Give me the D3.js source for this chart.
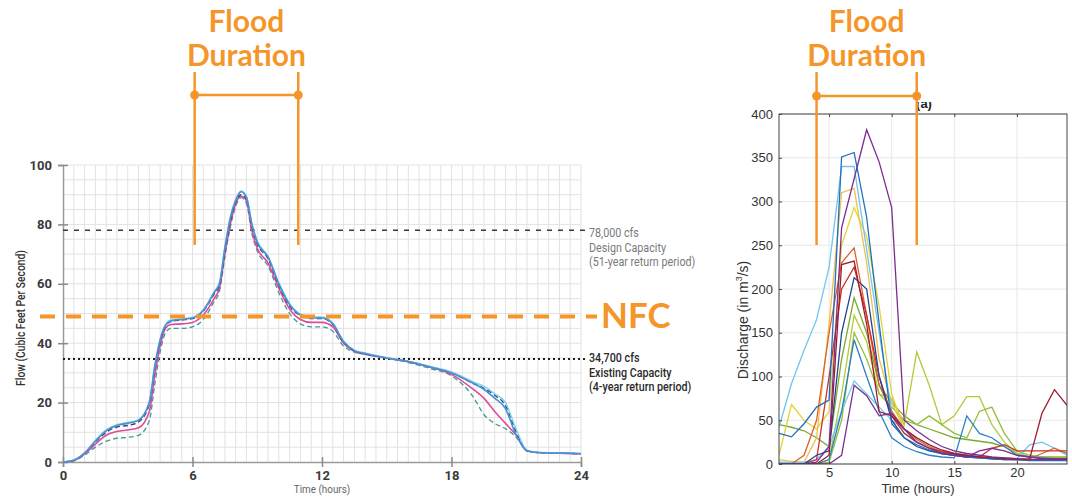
<!DOCTYPE html>
<html>
<head>
<meta charset="utf-8">
<script src="https://cdn.jsdelivr.net/npm/d3@7"></script>
<style>
    body { margin: 0; background: #fff; }
    svg { display: block; }
</style>
</head>
<body>
<svg id="chart" width="1072" height="497"></svg>
<script>
// ---------- left chart data (flow, thousand cfs) ----------
var hoursL = [0, 0.5, 1, 1.5, 2, 2.5, 3, 3.5, 4, 4.25, 4.5, 4.75, 5, 5.5, 6, 6.5, 7, 7.25, 7.5, 7.75, 8,
    8.25, 8.5, 8.75, 9, 9.5, 10, 10.5, 11, 11.5, 12, 12.5, 13, 13.5, 14, 15, 16, 17, 18, 19,
    19.5, 20, 20.5, 21, 21.5, 22, 23, 24];
var flowTeal = [0, 0.4, 2.3, 5, 7, 8, 8.3, 9, 14, 26, 37, 43.5, 45, 45, 45.5, 48, 54, 57.5, 69, 79, 86,
    89, 87, 77, 71, 66, 57, 50, 46.5, 45.5, 45.5, 44, 39, 37, 36.2, 35, 33.5, 31.5, 29, 22,
    16, 13, 11.2, 8.3, 3.8, 3.2, 3, 2.8];
var flowPink = [0, 0.5, 2.7, 6, 9, 10.3, 10.8, 11.5, 17, 29, 39, 45, 46.3, 46.5, 47, 49.5, 55, 58.5, 70, 80, 87,
    89.5, 88, 78, 72, 67, 58.5, 51.5, 48, 47, 47, 45.5, 40, 37.3, 36.3, 35, 33.8, 32, 29.5, 24.5,
    21.5, 17, 13, 9, 3.7, 3.2, 3, 2.8];
var flowNavy = [0, 0.6, 3, 6.8, 10, 11.8, 12.3, 13.5, 19.5, 31.5, 40.5, 45.8, 47.3, 47.8, 48.3, 50.8, 56.5, 59.5, 71, 81, 87.5,
    90, 88.5, 79.5, 73.5, 68.5, 59.5, 52.5, 49.3, 48.3, 48.3, 46.3, 40.3, 37.4, 36.4, 35, 33.8, 32, 30, 26.5,
    24.8, 22.5, 19, 10, 3.8, 3.2, 3, 2.8];
var flowCyan = [0, 0.7, 3.2, 7.3, 10.8, 12.6, 13.3, 14.3, 20.5, 32.5, 41.5, 46.3, 47.8, 48.2, 48.7, 51.3, 57.3, 60.5, 72.5, 82.5, 88.5,
    91.3, 89.5, 80.5, 74.5, 69.3, 60.3, 53.3, 49.8, 48.8, 48.8, 46.8, 40.8, 37.7, 36.7, 35.1, 33.9, 32.2, 30.3, 27,
    25.5, 23, 20, 11, 4, 3.3, 3.1, 2.9];
var flowBlue = [0, 0.6, 3, 7, 10.5, 12.3, 13, 14, 20, 32, 41, 46, 47.5, 48, 48.5, 51, 57, 60, 72, 82, 88,
    91, 89, 80, 74, 69, 60, 53, 49.5, 48.5, 48.5, 46.5, 40.5, 37.5, 36.5, 35, 33.8, 32, 30, 26.5,
    24.5, 21.5, 18, 9, 3.8, 3.2, 3, 2.8];

var ticksXL = [0, 6, 12, 18, 24];
var ticksYL = [0, 20, 40, 60, 80, 100];
var designCap = 78;      // 78,000 cfs
var existingCap = 34.7;  // 34,700 cfs
var nfcLevel = 49;
var floodL = [6.1, 10.9];

// ---------- right chart data (discharge, m3/s) ----------
var hoursR = [1, 2, 3, 4, 5, 6, 7, 8, 9, 10, 11, 12, 13, 14, 15, 16, 17, 18, 19, 20, 21, 22, 23, 24];
var qGreen    = [45, 42, 38, 30, 20, 120, 190, 150, 90, 70, 55, 45, 40, 35, 30, 28, 26, 24, 20, 12, 8, 8, 8, 8];
var qLime     = [0, 0, 0, 0, 5, 80, 170, 140, 80, 75, 45, 128, 90, 45, 55, 77, 77, 45, 25, 12, 8, 8, 8, 8];
var qGreen2   = [0, 0, 0, 0, 2, 50, 150, 120, 80, 65, 50, 45, 55, 45, 35, 30, 60, 65, 35, 15, 10, 8, 7, 7];
var qYellow   = [10, 68, 50, 40, 60, 250, 293, 260, 180, 80, 40, 30, 22, 15, 12, 10, 8, 7, 6, 6, 5, 5, 5, 5];
var qGold     = [5, 3, 2, 30, 160, 310, 315, 230, 120, 70, 40, 25, 18, 14, 11, 9, 8, 7, 6, 6, 5, 5, 5, 5];
var qOrange   = [0, 0, 10, 50, 150, 230, 247, 170, 90, 60, 40, 28, 20, 14, 11, 9, 8, 7, 7, 6, 6, 12, 18, 12];
var qRed      = [0, 0, 0, 5, 100, 200, 225, 170, 100, 55, 35, 25, 18, 14, 11, 9, 8, 18, 22, 15, 15, 15, 15, 15];
var qDarkRed  = [0, 0, 0, 0, 10, 228, 232, 160, 60, 55, 40, 30, 22, 16, 12, 10, 8, 7, 6, 5, 5, 58, 85, 67];
var qSky      = [42, 92, 130, 165, 225, 340, 340, 245, 150, 60, 35, 25, 18, 14, 11, 9, 8, 7, 6, 6, 22, 25, 18, 10];
var qSkyLow   = [2, 2, 2, 5, 20, 60, 95, 80, 65, 50, 40, 30, 22, 15, 12, 10, 8, 7, 6, 5, 5, 5, 5, 5];
var qBlue     = [35, 31, 46, 65, 73, 351, 356, 282, 160, 46, 30, 22, 16, 12, 10, 8, 7, 6, 5, 5, 4, 4, 4, 4];
var qBlueMid  = [0, 0, 0, 0, 5, 60, 142, 100, 60, 30, 20, 14, 10, 8, 7, 55, 35, 30, 20, 10, 8, 7, 6, 6];
var qNavy     = [0, 0, 0, 10, 15, 150, 213, 200, 100, 50, 30, 20, 15, 12, 10, 8, 7, 6, 5, 5, 5, 5, 5, 5];
var qPurple   = [0, 0, 0, 2, 20, 270, 326, 382, 345, 293, 50, 38, 28, 20, 15, 12, 10, 8, 7, 6, 5, 5, 5, 5];
var qPurpleLo = [0, 0, 0, 0, 0, 10, 90, 78, 55, 58, 40, 25, 18, 12, 10, 8, 15, 18, 15, 10, 8, 6, 6, 6];

var ticksXR = [5, 10, 15, 20];
var ticksYR = [0, 50, 100, 150, 200, 250, 300, 350, 400];
var floodR = [4, 12];

var orange = '#f5962a';

d3.select(window).on('load', init);

function init() {
    var svg = d3.select('#chart');
    svg.append('rect').attr('width', 1072).attr('height', 497).attr('fill', '#fff');

    drawLeft(svg);
    drawRight(svg);
}

// narrow text: the original uses a condensed face, so squeeze Roboto
function narrowText(g, x, y, txt, size, weight, fill, anchor, rotate) {
    return g.append('text')
        .attr('transform', 'translate(' + x + ',' + y + ')' +
            (rotate ? ' rotate(' + rotate + ')' : '') + ' scale(0.86,1)')
        .attr('text-anchor', anchor || 'start')
        .attr('font-family', 'Roboto, sans-serif')
        .attr('font-size', size)
        .attr('font-weight', weight)
        .attr('fill', fill)
        .text(txt);
}

// -----------------------------------
function drawLeft(svg) {
    var x = d3.scaleLinear().domain([0, 24]).range([63, 581]);
    var y = d3.scaleLinear().domain([0, 100]).range([462, 165]);

    var g = svg.append('g');

    // fine grid: every half hour and every 5 units
    g.append('g').selectAll('line')
        .data(d3.range(0.5, 24.01, 0.5))
        .enter().append('line')
        .attr('x1', function(d){ return x(d); })
        .attr('x2', function(d){ return x(d); })
        .attr('y1', y(0)).attr('y2', y(100))
        .attr('stroke', '#e2e2e2').attr('stroke-width', 1);
    g.append('g').selectAll('line')
        .data(d3.range(5, 100.1, 5))
        .enter().append('line')
        .attr('x1', x(0)).attr('x2', x(24))
        .attr('y1', function(d){ return y(d); })
        .attr('y2', function(d){ return y(d); })
        .attr('stroke', '#e2e2e2').attr('stroke-width', 1);

    // axes
    var yAxis = g.append('g')
        .attr('transform', 'translate(' + x(0) + ',0)')
        .call(d3.axisLeft(y).tickValues(ticksYL).tickSize(5).tickPadding(6));
    yAxis.selectAll('.tick line').attr('x2', 5).attr('x1', -5);
    var xAxis = g.append('g')
        .attr('transform', 'translate(0,' + y(0) + ')')
        .call(d3.axisBottom(x).tickValues(ticksXL).tickSize(5).tickPadding(4));
    xAxis.selectAll('.tick line').attr('y1', -5);

    [yAxis, xAxis].forEach(function(a) {
        a.select('.domain').attr('stroke', '#9a9a9a').attr('stroke-width', 1.5);
        a.selectAll('.tick line').attr('stroke', '#8a8a8a').attr('stroke-width', 1.5);
        a.selectAll('.tick text')
            .attr('font-family', 'Roboto, sans-serif')
            .attr('font-size', 13)
            .attr('font-weight', 'bold')
            .attr('fill', '#3a3a3a');
    });

    // capacity lines
    g.append('line')
        .attr('x1', x(0)).attr('x2', 586)
        .attr('y1', y(designCap)).attr('y2', y(designCap))
        .attr('stroke', '#3a3a3a').attr('stroke-width', 1.5)
        .attr('stroke-dasharray', '5,6');
    g.append('line')
        .attr('x1', x(0)).attr('x2', 586)
        .attr('y1', y(existingCap)).attr('y2', y(existingCap))
        .attr('stroke', '#1e1e1e').attr('stroke-width', 2)
        .attr('stroke-dasharray', '2,3');

    // flow curves
    var line = d3.line()
        .x(function(d){ return x(d[0]); })
        .y(function(d){ return y(d[1]); })
        .curve(d3.curveMonotoneX);

    var series = [
        {v: flowTeal, c: '#3f9c90', w: 1.3, dash: '5,3'},
        {v: flowPink, c: '#e2489c', w: 1.6, dash: null},
        {v: flowNavy, c: '#2d4775', w: 1.4, dash: '5,3'},
        {v: flowCyan, c: '#7fd0e4', w: 1.4, dash: null},
        {v: flowBlue, c: '#4b8fd2', w: 1.6, dash: null}
    ];
    series.forEach(function(s) {
        g.append('path')
            .datum(d3.zip(hoursL, s.v))
            .attr('d', line)
            .attr('fill', 'none')
            .attr('stroke', s.c)
            .attr('stroke-width', s.w)
            .attr('stroke-dasharray', s.dash);
    });

    // NFC line
    g.append('line')
        .attr('x1', 40).attr('x2', 597)
        .attr('y1', y(nfcLevel)).attr('y2', y(nfcLevel))
        .attr('stroke', orange).attr('stroke-width', 4)
        .attr('stroke-dasharray', '15,11');
    g.append('text')
        .attr('x', 601).attr('y', y(nfcLevel) + 12)
        .attr('font-family', 'Lato, sans-serif')
        .attr('font-weight', 'bold')
        .attr('font-size', 35)
        .attr('fill', orange)
        .text('NFC');

    // capacity labels
    var capLabels = [
        {t: '78,000 cfs', yy: 237, c: '#7a7a7a', w: 'normal'},
        {t: 'Design Capacity', yy: 252, c: '#7a7a7a', w: 'normal'},
        {t: '(51-year return period)', yy: 266, c: '#7a7a7a', w: 'normal'},
        {t: '34,700 cfs', yy: 362, c: '#2a2a2a', w: 500},
        {t: 'Existing Capacity', yy: 377, c: '#2a2a2a', w: 500},
        {t: '(4-year return period)', yy: 391, c: '#2a2a2a', w: 500}
    ];
    capLabels.forEach(function(d) {
        narrowText(g, 589, d.yy, d.t, 12.5, d.w, d.c);
    });

    // axis titles
    narrowText(g, 25, 318, 'Flow (Cubic Feet Per Second)', 12, 500, '#333', 'middle', -90);
    narrowText(g, x(12), 493, 'Time (hours)', 11.5, 'normal', '#666', 'middle');

    drawFlood(svg, x(floodL[0]), x(floodL[1]), 95);
}

// -----------------------------------
function drawRight(svg) {
    var x = d3.scaleLinear().domain([1, 24]).range([779, 1067]);
    var y = d3.scaleLinear().domain([0, 400]).range([464, 114]);
    var helv = "'Liberation Sans', Arial, sans-serif";

    var g = svg.append('g');

    g.append('clipPath').attr('id', 'clipR')
        .append('rect')
        .attr('x', x(1)).attr('y', y(400))
        .attr('width', x(24) - x(1)).attr('height', y(0) - y(400));

    // grid
    g.append('g').selectAll('line')
        .data(ticksXR)
        .enter().append('line')
        .attr('x1', function(d){ return x(d); })
        .attr('x2', function(d){ return x(d); })
        .attr('y1', y(0)).attr('y2', y(400))
        .attr('stroke', '#e8e8e8');
    g.append('g').selectAll('line')
        .data(ticksYR)
        .enter().append('line')
        .attr('x1', x(1)).attr('x2', x(24))
        .attr('y1', function(d){ return y(d); })
        .attr('y2', function(d){ return y(d); })
        .attr('stroke', '#e8e8e8');

    // discharge lines
    var line = d3.line()
        .x(function(d){ return x(d[0]); })
        .y(function(d){ return y(d[1]); });

    var series = [
        {v: qGreen, c: '#77ac30'},
        {v: qLime, c: '#b3c93a'},
        {v: qGreen2, c: '#93bf3c'},
        {v: qYellow, c: '#e3d33c'},
        {v: qGold, c: '#f0c048'},
        {v: qSkyLow, c: '#74cbe6'},
        {v: qSky, c: '#6fc6ea'},
        {v: qOrange, c: '#e0602a'},
        {v: qRed, c: '#c8322a'},
        {v: qBlueMid, c: '#2b80c4'},
        {v: qNavy, c: '#23428f'},
        {v: qBlue, c: '#1f6fbf'},
        {v: qDarkRed, c: '#a11a30'},
        {v: qPurpleLo, c: '#7a2f92'},
        {v: qPurple, c: '#7b2d8f'}
    ];
    g.append('g').attr('clip-path', 'url(#clipR)')
        .selectAll('path')
        .data(series)
        .enter().append('path')
        .attr('d', function(s){ return line(d3.zip(hoursR, s.v)); })
        .attr('fill', 'none')
        .attr('stroke', function(s){ return s.c; })
        .attr('stroke-width', 1.3);

    // box and ticks
    g.append('rect')
        .attr('x', x(1)).attr('y', y(400))
        .attr('width', x(24) - x(1)).attr('height', y(0) - y(400))
        .attr('fill', 'none').attr('stroke', '#444').attr('stroke-width', 1);

    var xAxis = g.append('g')
        .attr('transform', 'translate(0,' + y(0) + ')')
        .call(d3.axisBottom(x).tickValues(ticksXR).tickSize(-3).tickPadding(4));
    g.append('g')
        .attr('transform', 'translate(0,' + y(400) + ')')
        .call(d3.axisTop(x).tickValues(ticksXR).tickSize(-3).tickFormat(''));
    var yAxis = g.append('g')
        .attr('transform', 'translate(' + x(1) + ',0)')
        .call(d3.axisLeft(y).tickValues(ticksYR).tickSize(-3).tickPadding(6));

    g.selectAll('.domain').attr('stroke', 'none');
    g.selectAll('.tick line').attr('stroke', '#444');
    [xAxis, yAxis].forEach(function(a) {
        a.selectAll('.tick text')
            .attr('font-family', helv)
            .attr('font-size', 13)
            .attr('fill', '#333');
    });

    // "(a)" panel tag, top cut off
    g.append('clipPath').attr('id', 'clipTag')
        .append('rect').attr('x', 900).attr('y', 102).attr('width', 50).attr('height', 12);
    g.append('text')
        .attr('clip-path', 'url(#clipTag)')
        .attr('x', 924).attr('y', 108)
        .attr('text-anchor', 'middle')
        .attr('font-family', helv)
        .attr('font-size', 13)
        .attr('font-weight', 'bold')
        .attr('fill', '#222')
        .text('(a)');

    // axis titles
    var yt = g.append('text')
        .attr('transform', 'translate(748,320) rotate(-90)')
        .attr('text-anchor', 'middle')
        .attr('font-family', helv)
        .attr('font-size', 14)
        .attr('fill', '#333');
    yt.append('tspan').text('Discharge (in m');
    yt.append('tspan').attr('font-size', 9).attr('dy', -6).text('3');
    yt.append('tspan').attr('dy', 6).text('/s)');

    g.append('text')
        .attr('x', 918).attr('y', 493)
        .attr('text-anchor', 'middle')
        .attr('font-family', helv)
        .attr('font-size', 13)
        .attr('fill', '#333')
        .text('Time (hours)');

    drawFlood(svg, x(floodR[0]), x(floodR[1]), 96);
}

// ------------------------------------
function drawFlood(svg, xa, xb, yb) {
    var g = svg.append('g');
    var cx = (xa + xb) / 2;

    g.append('text')
        .attr('x', cx).attr('y', 32)
        .attr('text-anchor', 'middle')
        .attr('font-family', 'Lato, sans-serif')
        .attr('font-weight', 'bold')
        .attr('font-size', 30)
        .attr('fill', orange)
        .text('Flood');
    g.append('text')
        .attr('x', cx).attr('y', 66)
        .attr('text-anchor', 'middle')
        .attr('font-family', 'Lato, sans-serif')
        .attr('font-weight', 'bold')
        .attr('font-size', 30)
        .attr('fill', orange)
        .text('Duration');

    [xa, xb].forEach(function(xx) {
        g.append('line')
            .attr('x1', xx).attr('x2', xx)
            .attr('y1', 72).attr('y2', 245)
            .attr('stroke', orange).attr('stroke-width', 2.5);
        g.append('circle')
            .attr('cx', xx).attr('cy', yb).attr('r', 4.5)
            .attr('fill', orange);
    });
    g.append('line')
        .attr('x1', xa).attr('x2', xb)
        .attr('y1', yb).attr('y2', yb)
        .attr('stroke', orange).attr('stroke-width', 2.5);
}
</script>
</body>
</html>
